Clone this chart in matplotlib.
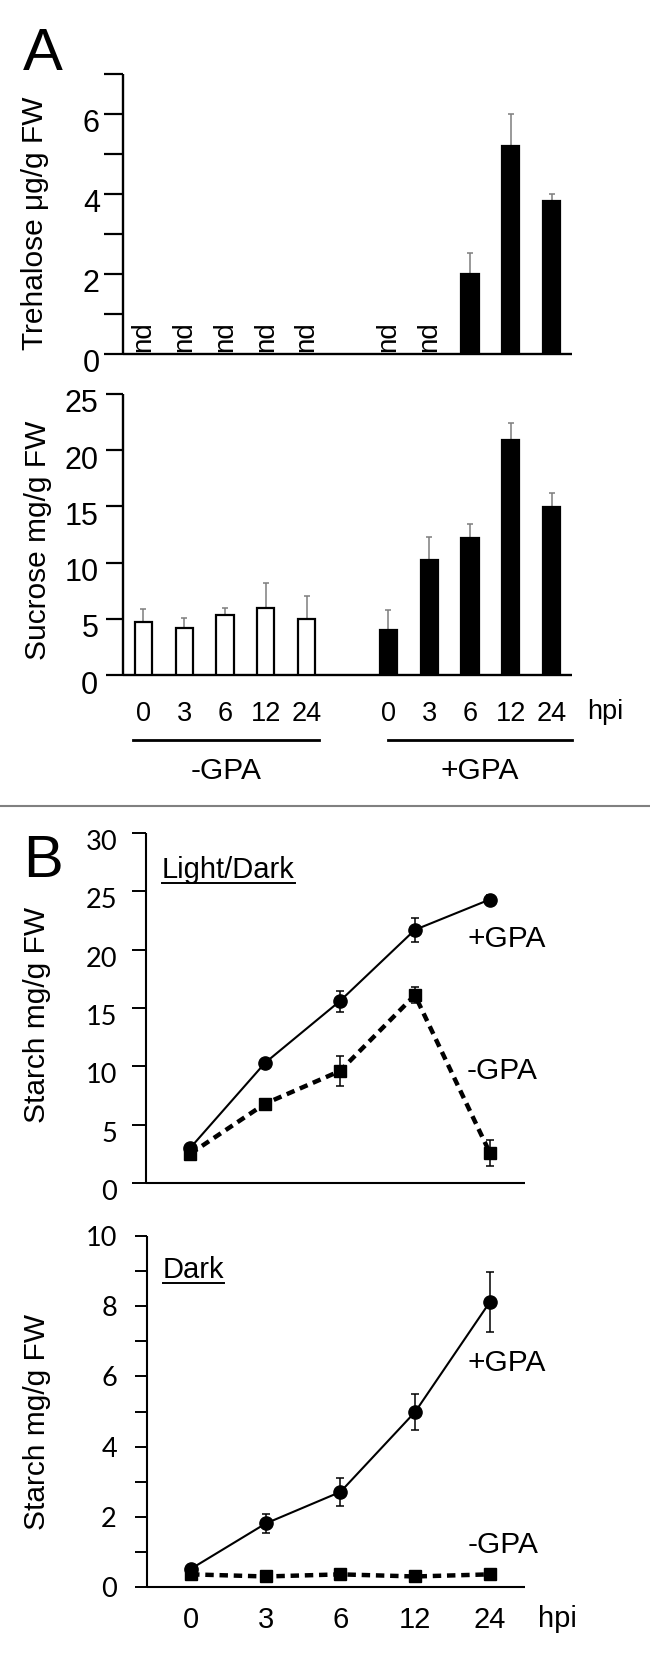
import numpy as np
import matplotlib
matplotlib.use("Agg")
from matplotlib import pyplot as plt
from matplotlib.lines import Line2D
from matplotlib.transforms import ScaledTranslation, blended_transform_factory

hours = ["0", "3", "6", "12", "24"]

# panel A - trehalose (None = not detected)
treh_minus = [None, None, None, None, None]
treh_plus = [None, None, 2.0, 5.2, 3.82]
treh_plus_err = [0, 0, 0.52, 0.8, 0.17]

# panel A - sucrose
sucr_minus = [4.75, 4.2, 5.35, 6.0, 5.0]
sucr_minus_err = [1.1, 0.9, 0.6, 2.2, 2.0]
sucr_plus = [4.0, 10.2, 12.2, 20.9, 14.95]
sucr_plus_err = [1.8, 2.05, 1.2, 1.5, 1.25]

# panel B - starch, light/dark
ld_plus = [3.0, 10.3, 15.6, 21.7, 24.3]
ld_plus_err = [0.2, 0.3, 0.9, 1.0, 0.4]
ld_minus = [2.5, 6.8, 9.6, 16.1, 2.6]
ld_minus_err = [0.3, 0.4, 1.3, 0.7, 1.1]

# panel B - starch, dark
dk_plus = [0.52, 1.81, 2.71, 4.99, 8.12]
dk_plus_err = [0.1, 0.27, 0.4, 0.52, 0.86]
dk_minus = [0.36, 0.30, 0.36, 0.30, 0.36]
dk_minus_err = [0.05, 0.05, 0.05, 0.05, 0.05]

ARIAL = ["Liberation Sans", "DejaVu Sans"]
CALIB = ["Lato", "DejaVu Sans"]
plt.rcParams["font.family"] = ARIAL

W, H = 650, 1661
fig = plt.figure(figsize=(W / 100, H / 100), dpi=100)


def px_axes(left, top, right, bottom):
    return fig.add_axes([left / W, 1 - bottom / H, (right - left) / W, (bottom - top) / H])


def style_axes(ax, lw=1.7):
    for s in ["top", "right"]:
        ax.spines[s].set_visible(False)
    for s in ["left", "bottom"]:
        ax.spines[s].set_linewidth(lw)
        ax.spines[s].set_capstyle("butt")


def shift_yticklabels(ax, dy_px):
    off = ScaledTranslation(0, -dy_px / 100, fig.dpi_scale_trans)
    for lab in ax.get_yticklabels():
        lab.set_transform(lab.get_transform() + off)


x_minus = np.arange(5)
x_plus = np.arange(6, 11)
bar_w = 0.42
err_col = "#7d7d7d"


def draw_bars(ax, xs, vals, errs, face, nd_size=20):
    for x, v, e in zip(xs, vals, errs):
        if v is None:
            ax.text(x, 0.06, "nd", rotation=90, ha="center", va="bottom",
                    fontsize=nd_size)
            continue
        ax.bar(x, v, width=bar_w, color=face, edgecolor="black", linewidth=1.6,
               zorder=3)
        ax.errorbar(x, v, yerr=[[0], [e]], fmt="none", ecolor=err_col,
                    elinewidth=1.1, capsize=2.5, capthick=1.1, zorder=2)


# ---- trehalose ----
ax1 = px_axes(123, 74, 572, 354)
style_axes(ax1)
draw_bars(ax1, x_minus, treh_minus, [0] * 5, "white")
draw_bars(ax1, x_plus, treh_plus, treh_plus_err, "black")
ax1.set_xlim(-0.5, 10.5)
ax1.set_ylim(0, 7)
ax1.set_xticks([])
ax1.set_yticks(range(8))
ax1.set_yticklabels(["0", "", "2", "", "4", "", "6", ""])
ax1.tick_params(axis="y", length=13.7, width=1.6, pad=3, labelsize=22)
shift_yticklabels(ax1, 7)
ax1.text(-0.196, 0.468, "Trehalose \u03bcg/g FW", rotation=90, ha="center",
         va="center", fontsize=21.5, transform=ax1.transAxes)

# ---- sucrose ----
ax2 = px_axes(123, 394, 572, 675)
style_axes(ax2)
draw_bars(ax2, x_minus, sucr_minus, sucr_minus_err, "white")
draw_bars(ax2, x_plus, sucr_plus, sucr_plus_err, "black")
ax2.set_xlim(-0.5, 10.5)
ax2.set_ylim(0, 25)
ax2.set_yticks(range(0, 26, 5))
ax2.set_xticks(list(x_minus) + list(x_plus))
ax2.set_xticklabels(hours + hours)
ax2.tick_params(axis="y", length=12.3, width=1.6, pad=5.5, labelsize=22)
ax2.tick_params(axis="x", length=0, pad=19, labelsize=19.5)
shift_yticklabels(ax2, 7)
ax2.text(-0.19, 0.48, "Sucrose mg/g FW", rotation=90, ha="center",
         va="center", fontsize=21.5, transform=ax2.transAxes)
ax2.text(1.073, -0.132, "hpi", ha="center", va="center", fontsize=19.5,
         transform=ax2.transAxes)
tr = blended_transform_factory(ax2.transData, ax2.transAxes)
for xs, name, x0, x1 in [(x_minus, "-GPA", -0.25, 0.3), (x_plus, "+GPA", 0.0, 0.5)]:
    ax2.add_line(Line2D([xs[0] + x0, xs[-1] + x1], [-0.231, -0.231], color="black",
                        lw=2, transform=tr, clip_on=False))
    ax2.text((xs[0] + x0 + xs[-1] + x1) / 2, -0.34, name, ha="center", va="center",
             fontsize=21.5, transform=tr)

# divider
fig.add_artist(Line2D([0, 1], [1 - 806 / H, 1 - 806 / H], color="#808080", lw=1.5))

fig.text(23 / W, 1 - 70 / H, "A", fontsize=43, ha="left", va="baseline")
fig.text(23 / W, 1 - 877 / H, "B", fontsize=43, ha="left", va="baseline")

xpos = np.arange(5)


def draw_starch(ax, plus, plus_err, minus, minus_err):
    ax.plot(xpos, plus, color="black", lw=1.5, zorder=3)
    ax.plot(xpos, minus, color="black", lw=3.2, ls=(0, (1.9, 1.3)),
            dash_capstyle="butt", zorder=3)
    ax.errorbar(xpos, plus, yerr=plus_err, fmt="none", ecolor="black",
                elinewidth=1.1, capsize=3, capthick=1.1, zorder=4)
    ax.errorbar(xpos, minus, yerr=minus_err, fmt="none", ecolor="black",
                elinewidth=1.1, capsize=3, capthick=1.1, zorder=4)
    ax.plot(xpos, plus, ls="none", marker="o", ms=9.5, color="black", zorder=5)
    ax.plot(xpos, minus, ls="none", marker="s", ms=9, color="black", zorder=5)


# ---- starch light/dark ----
ax3 = px_axes(146, 833, 525, 1183)
style_axes(ax3, 1.5)
draw_starch(ax3, ld_plus, ld_plus_err, ld_minus, ld_minus_err)
ax3.set_xlim(-0.59, 4.47)
ax3.set_ylim(0, 30)
ax3.set_xticks([])
ax3.set_yticks(range(0, 31, 5))
ax3.tick_params(axis="y", length=10, width=1.4, pad=10.8, labelsize=19.5)
for lab in ax3.get_yticklabels():
    lab.set_family(CALIB)
shift_yticklabels(ax3, 7)
ax3.text(-0.288, 0.48, "Starch mg/g FW", rotation=90, ha="center", va="center",
         fontsize=21.5, transform=ax3.transAxes)
ax3.text(0.847, 0.697, "+GPA", ha="left", va="center", fontsize=21.5,
         transform=ax3.transAxes)
ax3.text(0.847, 0.32, "-GPA", ha="left", va="center", fontsize=21.5,
         transform=ax3.transAxes)
t3 = ax3.text(0.042, 0.871, "Light/Dark", ha="left", va="baseline", fontsize=21,
              transform=ax3.transAxes)

# ---- starch dark ----
ax4 = px_axes(147, 1236, 525, 1587)
style_axes(ax4, 1.5)
draw_starch(ax4, dk_plus, dk_plus_err, dk_minus, dk_minus_err)
ax4.set_xlim(-0.59, 4.47)
ax4.set_ylim(0, 10)
ax4.set_xticks(xpos)
ax4.set_xticklabels(hours)
ax4.set_yticks(range(11))
ax4.set_yticklabels([str(v) if v % 2 == 0 else "" for v in range(11)])
ax4.tick_params(axis="y", length=8.6, width=1.4, pad=13, labelsize=19.5)
ax4.tick_params(axis="x", length=0, pad=13.5, labelsize=21)
for lab in ax4.get_yticklabels():
    lab.set_family(CALIB)
ax4.text(-0.291, 0.47, "Starch mg/g FW", rotation=90, ha="center", va="center",
         fontsize=21.5, transform=ax4.transAxes)
ax4.text(0.847, 0.638, "+GPA", ha="left", va="center", fontsize=21.5,
         transform=ax4.transAxes)
ax4.text(0.847, 0.12, "-GPA", ha="left", va="center", fontsize=21.5,
         transform=ax4.transAxes)
ax4.text(1.085, -0.09, "hpi", ha="center", va="center", fontsize=21,
         transform=ax4.transAxes)
t4 = ax4.text(0.042, 0.88, "Dark", ha="left", va="baseline", fontsize=21,
              transform=ax4.transAxes)

# underline the condition labels
fig.canvas.draw()
rend = fig.canvas.get_renderer()
for t in (t3, t4):
    bb = t.get_window_extent(rend)
    base_y = t.get_transform().transform(t.get_position())[1]
    y = base_y - 4.5
    fig.add_artist(Line2D([bb.x0 / W, bb.x1 / W], [y / H, y / H], color="black",
                          lw=1.4))

fig.savefig("out.png", dpi=100)
